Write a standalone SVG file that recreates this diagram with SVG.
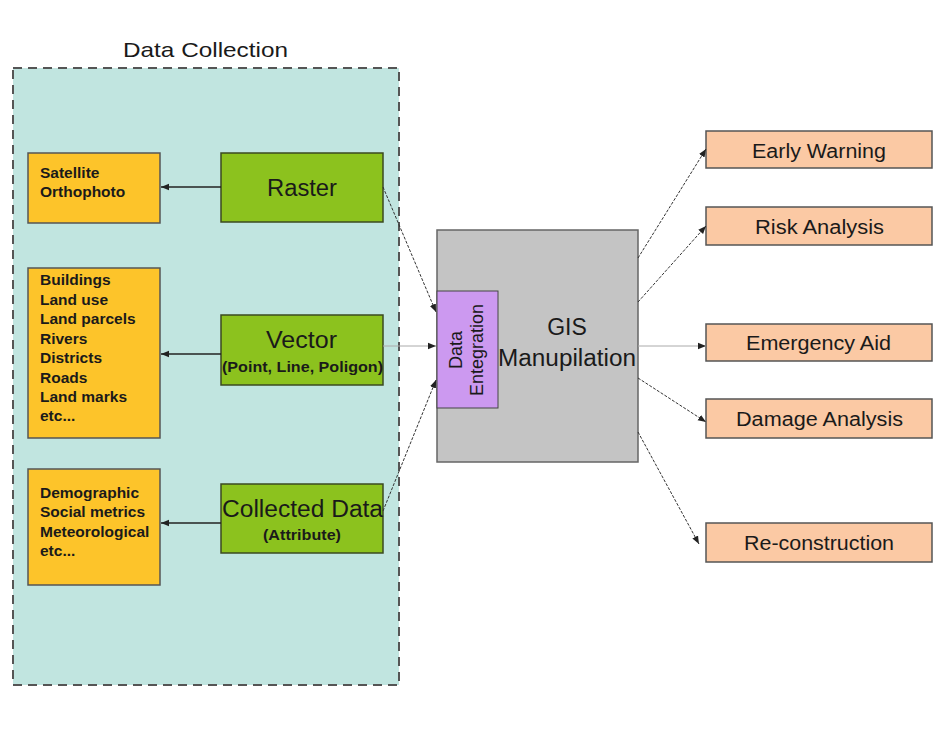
<svg xmlns="http://www.w3.org/2000/svg" width="951" height="735" viewBox="0 0 951 735">
<style>
.t{font-family:"Liberation Sans",Arial,sans-serif;fill:#1a1a1a}
.b{font-weight:bold;font-size:15.5px}
.o{font-size:20px}
.yb{fill:#fdc42a;stroke:#555;stroke-width:1.5}
.gb{fill:#8cc21e;stroke:#3b4a20;stroke-width:1.5}
.ob{fill:#fbc9a4;stroke:#555;stroke-width:1.5}
.sl{stroke:#222;stroke-width:1.3;fill:none}
.dl{stroke:#333;stroke-width:1;stroke-dasharray:3 1.5;fill:none}
.ll{stroke:#aaa;stroke-width:1;fill:none}
</style>
<defs>
<marker id="ah" viewBox="0 0 10 10" refX="10" refY="5" markerWidth="8" markerHeight="8" orient="auto" markerUnits="userSpaceOnUse">
<path d="M0,1 L10,5 L0,9 z" fill="#222"/>
</marker>
</defs>
<rect width="951" height="735" fill="#fff"/>
<g id="data-collection">
<rect x="13" y="68" width="386" height="617" fill="#c1e5e0" stroke="#555" stroke-width="2" stroke-dasharray="9 6"/>
<text class="t" x="123" y="57" font-size="21" textLength="165" lengthAdjust="spacingAndGlyphs">Data Collection</text>
</g>
<g id="satellite">
<rect class="yb" x="28" y="153" width="132" height="70"/>
<text class="t b" x="40" y="178">Satellite</text>
<text class="t b" x="40" y="197">Orthophoto</text>
</g>
<g id="raster">
<rect class="gb" x="221" y="153" width="162" height="69"/>
<text class="t" x="267" y="196" font-size="23" textLength="70" lengthAdjust="spacingAndGlyphs">Raster</text>
</g>
<g id="vector-list">
<rect class="yb" x="28" y="268" width="132" height="170"/>
<text class="t b" x="40" y="285">Buildings</text>
<text class="t b" x="40" y="305">Land use</text>
<text class="t b" x="40" y="324">Land parcels</text>
<text class="t b" x="40" y="344">Rivers</text>
<text class="t b" x="40" y="363">Districts</text>
<text class="t b" x="40" y="383">Roads</text>
<text class="t b" x="40" y="402">Land marks</text>
<text class="t b" x="40" y="421">etc...</text>
</g>
<g id="vector">
<rect class="gb" x="221" y="315" width="162" height="70"/>
<text class="t" x="266" y="348" font-size="23" textLength="71" lengthAdjust="spacingAndGlyphs">Vector</text>
<text class="t" x="222" y="372" font-size="14.5" font-weight="bold" textLength="161" lengthAdjust="spacingAndGlyphs">(Point, Line, Poligon)</text>
</g>
<g id="attribute-list">
<rect class="yb" x="28" y="469" width="132" height="116"/>
<text class="t b" x="40" y="498">Demographic</text>
<text class="t b" x="40" y="517">Social metrics</text>
<text class="t b" x="40" y="537">Meteorological</text>
<text class="t b" x="40" y="556">etc...</text>
</g>
<g id="collected-data">
<rect class="gb" x="221" y="484" width="162" height="69"/>
<text class="t" x="222" y="517" font-size="23" textLength="161" lengthAdjust="spacingAndGlyphs">Collected Data</text>
<text class="t" x="263" y="540" font-size="14.5" font-weight="bold" textLength="78" lengthAdjust="spacingAndGlyphs">(Attribute)</text>
</g>
<g id="gis">
<rect x="437" y="230" width="201" height="232" fill="#c4c4c4" stroke="#666" stroke-width="1.5"/>
<text class="t" x="567" y="335" font-size="23" text-anchor="middle">GIS</text>
<text class="t" x="498" y="366" font-size="23" textLength="138" lengthAdjust="spacingAndGlyphs">Manupilation</text>
</g>
<g id="data-integration">
<rect x="437" y="291" width="61" height="117" fill="#cc99f0" stroke="#444" stroke-width="1"/>
<text class="t" transform="translate(462,350) rotate(-90)" font-size="18" text-anchor="middle">Data</text>
<text class="t" transform="translate(483,350) rotate(-90)" font-size="18" text-anchor="middle">Entegration</text>
</g>
<g id="early-warning">
<rect class="ob" x="706" y="131" width="226" height="37"/>
<text class="t o" x="752" y="158" textLength="134" lengthAdjust="spacingAndGlyphs">Early Warning</text>
</g>
<g id="risk-analysis">
<rect class="ob" x="706" y="207" width="226" height="38"/>
<text class="t o" x="755" y="234" textLength="129" lengthAdjust="spacingAndGlyphs">Risk Analysis</text>
</g>
<g id="emergency-aid">
<rect class="ob" x="706" y="324" width="226" height="37"/>
<text class="t o" x="746" y="350" textLength="145" lengthAdjust="spacingAndGlyphs">Emergency Aid</text>
</g>
<g id="damage-analysis">
<rect class="ob" x="706" y="399" width="226" height="39"/>
<text class="t o" x="736" y="426" textLength="167" lengthAdjust="spacingAndGlyphs">Damage Analysis</text>
</g>
<g id="re-construction">
<rect class="ob" x="706" y="523" width="226" height="39"/>
<text class="t o" x="744" y="550" textLength="150" lengthAdjust="spacingAndGlyphs">Re-construction</text>
</g>
<g id="connectors">
<line class="sl" x1="221" y1="187" x2="161" y2="187" marker-end="url(#ah)"/>
<line class="sl" x1="221" y1="354" x2="161" y2="354" marker-end="url(#ah)"/>
<line class="sl" x1="221" y1="523" x2="161" y2="523" marker-end="url(#ah)"/>
<line class="dl" x1="383" y1="187" x2="436" y2="312" marker-end="url(#ah)"/>
<line class="ll" x1="383" y1="346" x2="436" y2="346" marker-end="url(#ah)"/>
<line class="dl" x1="383" y1="511" x2="436" y2="380" marker-end="url(#ah)"/>
<line class="dl" x1="638" y1="258" x2="706" y2="149" marker-end="url(#ah)"/>
<line class="dl" x1="638" y1="302" x2="706" y2="226" marker-end="url(#ah)"/>
<line class="ll" x1="638" y1="346" x2="706" y2="346" marker-end="url(#ah)"/>
<line class="dl" x1="638" y1="378" x2="706" y2="422" marker-end="url(#ah)"/>
<line class="dl" x1="638" y1="432" x2="699" y2="544" marker-end="url(#ah)"/>
</g>
</svg>
